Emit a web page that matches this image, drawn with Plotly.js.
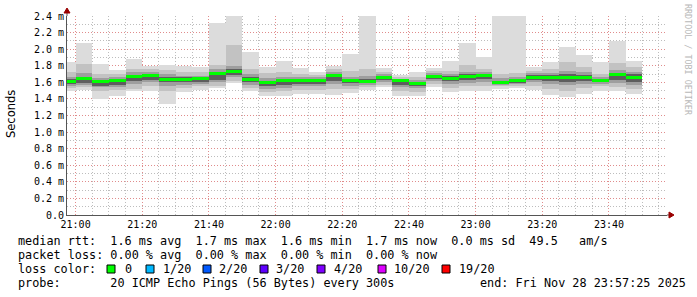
<!DOCTYPE html>
<html><head><meta charset="utf-8">
<script src="https://cdn.plot.ly/plotly-3.0.1.min.js"></script>
<style>html,body{margin:0;padding:0;background:#fff}#chart{width:697px;height:297px}</style>
</head><body><div id="chart"></div><script>
const day = '2025-11-28 ';
// 5-minute slot start times
const slotStarts = ['20:55','21:00','21:05','21:10','21:15','21:20','21:25','21:30','21:35','21:40','21:45','21:50',
  '21:55','22:00','22:05','22:10','22:15','22:20','22:25','22:30','22:35','22:40','22:45','22:50',
  '22:55','23:00','23:05','23:10','23:15','23:20','23:25','23:30','23:35','23:40','23:45'];
// median rtt (ms)
const median = [1.61,1.65,1.61,1.62,1.67,1.68,1.64,1.64,1.65,1.71,1.73,1.64,1.60,1.62,1.62,1.62,1.68,1.62,1.61,1.66,1.62,1.59,1.67,1.65,1.67,1.68,1.60,1.62,1.66,1.66,1.66,1.66,1.62,1.69,1.66];
// smoke: outer (min..max)
const smokeMax = [1.85,2.08,1.82,1.75,1.88,1.80,1.81,1.80,1.78,2.31,2.45,1.97,1.79,1.86,1.77,1.73,1.80,1.94,2.45,1.77,1.69,1.73,1.77,1.86,2.08,1.90,2.45,2.45,1.78,1.84,2.03,1.93,1.85,2.10,1.86];
const smokeMin = [1.50,1.51,1.40,1.44,1.49,1.49,1.34,1.48,1.51,1.53,1.59,1.49,1.44,1.44,1.46,1.46,1.45,1.47,1.51,1.54,1.44,1.43,1.54,1.48,1.50,1.50,1.52,1.53,1.51,1.45,1.42,1.46,1.50,1.49,1.46];
// inner smoke layers
const band2Hi = [1.72,1.82,1.70,1.70,1.76,1.76,1.75,1.73,1.72,1.81,2.05,1.76,1.71,1.73,1.70,1.69,1.76,1.74,1.76,1.73,1.66,1.66,1.74,1.74,1.81,1.76,1.70,1.71,1.74,1.76,1.84,1.78,1.70,1.83,1.79];
const band2Lo = [1.53,1.54,1.50,1.51,1.52,1.56,1.50,1.53,1.55,1.56,1.62,1.53,1.48,1.49,1.51,1.51,1.52,1.52,1.54,1.57,1.50,1.48,1.58,1.53,1.55,1.55,1.55,1.56,1.56,1.52,1.50,1.53,1.55,1.54,1.52];
const band3Hi = [1.67,1.71,1.65,1.66,1.72,1.72,1.70,1.68,1.68,1.76,1.80,1.70,1.65,1.67,1.66,1.66,1.72,1.67,1.68,1.70,1.64,1.63,1.71,1.70,1.72,1.72,1.65,1.66,1.71,1.71,1.74,1.72,1.66,1.75,1.73];
const band3Lo = [1.56,1.57,1.54,1.54,1.58,1.60,1.56,1.57,1.58,1.60,1.66,1.57,1.52,1.53,1.55,1.55,1.58,1.56,1.57,1.60,1.54,1.53,1.62,1.58,1.59,1.60,1.57,1.58,1.60,1.58,1.57,1.58,1.58,1.59,1.57];
const band4Hi = [1.64,1.67,1.62,1.63,1.69,1.70,1.66,1.66,1.66,1.72,1.76,1.66,1.61,1.63,1.64,1.64,1.70,1.64,1.64,1.68,1.63,1.61,1.69,1.68,1.70,1.70,1.62,1.64,1.69,1.69,1.70,1.69,1.64,1.71,1.70];
const band4Lo = [1.58,1.59,1.55,1.57,1.62,1.63,1.60,1.60,1.61,1.63,1.69,1.60,1.55,1.57,1.58,1.58,1.62,1.59,1.59,1.63,1.57,1.56,1.64,1.62,1.63,1.64,1.58,1.59,1.63,1.62,1.61,1.62,1.60,1.63,1.61];
// axis ticks
const yTickVals = [0,0.2,0.4,0.6,0.8,1.0,1.2,1.4,1.6,1.8,2.0,2.2,2.4];
const yTickText = ['0.0','0.2 m','0.4 m','0.6 m','0.8 m','1.0 m','1.2 m','1.4 m','1.6 m','1.8 m','2.0 m','2.2 m','2.4 m'];
// legend
const lossLabels = ['0','1/20','2/20','3/20','4/20','10/20','19/20'];
const lossColors = ['#00ff00','#00b8ff','#0059ff','#5e00ff','#7e00ff','#dd00ff','#ff0000'];
const line1 = 'median rtt:  1.6 ms avg  1.7 ms max  1.6 ms min  1.7 ms now  0.0 ms sd  49.5   am/s';
const line2 = 'packet loss: 0.00 % avg  0.00 % max  0.00 % min  0.00 % now';
const probeText = 'probe:       20 ICMP Echo Pings (56 Bytes) every 300s';
const endText = 'end: Fri Nov 28 23:57:25 2025';

const W=697,H=297,L=67,R=30,T=16,B=82;
const pw=W-L-R, ph=H-T-B;
const px = x => (x-L)/pw;
const py = y => (H-B-y)/ph;
const nb = s => s.replace(/ /g,'\u00a0');
const xs = slotStarts.map(t => day+t);

function band(lo, hi, color){
  return {type:'bar', x:xs, base:lo, y:hi.map((h,i)=>h-lo[i]), width:300000, offset:0,
    marker:{color:color, line:{width:0}}, hoverinfo:'skip', showlegend:false};
}
const traces = [
  band(smokeMin, smokeMax, '#dcdcdc'),
  band(band2Lo, band2Hi, '#c2c2c2'),
  band(band3Lo, band3Hi, '#9e9e9e'),
  band(band4Lo, band4Hi, '#5e5e5e'),
  {type:'bar', x:xs, base:median.map(m=>m-0.018), y:median.map(()=>0.036), width:300000, offset:0,
    marker:{color:'#00ff00', line:{width:0}}, hoverinfo:'skip', showlegend:false}
];

const mono = 'DejaVu Sans Mono';
const ann = [];
const shapes = [];
function txt(x,y,s,size,extra){ ann.push(Object.assign({xref:'paper',yref:'paper',x:px(x),y:py(y),text:nb(s),showarrow:false,
  xanchor:'left',yanchor:'middle',font:{family:mono,size:size,color:'#000'}},extra||{})); }
txt(16,241,line1,11.8);
txt(16,255,line2,11.8);
txt(16,269,'loss color:',11.8);
const sqX=[107,146,203,260,317,378,442];
const lbX=[122.7,160.7,217.3,274.3,331.7,391.7,456.7];
lossLabels.forEach((lab,i)=>{
  shapes.push({type:'rect',xref:'paper',yref:'paper',x0:px(sqX[i]),x1:px(sqX[i]+8),y0:py(273),y1:py(265),
    fillcolor:lossColors[i],line:{color:'#000',width:1}});
  txt(lbX[i],269,lab,11.8);
});
txt(16,283,probeText,11.8);
txt(478,283,endText,11.8);
// side texts
ann.push({xref:'paper',yref:'paper',x:px(11),y:py(114),text:'Seconds',showarrow:false,textangle:-90,
  xanchor:'center',yanchor:'middle',font:{family:'DejaVu Sans',size:11.5,color:'#000'}});
ann.push({xref:'paper',yref:'paper',x:px(688),y:py(60),text:nb('RRDTOOL / TOBI OETIKER'),showarrow:false,textangle:90,
  xanchor:'center',yanchor:'middle',font:{family:mono,size:8.4,color:'#b8b8b8'}});
// axis arrows
shapes.push({type:'path',xref:'paper',yref:'paper',xsizemode:'pixel',ysizemode:'pixel',xanchor:0,yanchor:1,
  path:'M0,0 L0,3', line:{color:'#555',width:1}});
shapes.push({type:'path',xref:'paper',yref:'paper',xsizemode:'pixel',ysizemode:'pixel',xanchor:0,yanchor:1,
  path:'M-3,3 L3,3 L0,8 Z', fillcolor:'#990000', line:{color:'#990000',width:1}});
shapes.push({type:'path',xref:'paper',yref:'paper',xsizemode:'pixel',ysizemode:'pixel',xanchor:1,yanchor:0,
  path:'M0,0 L2,0', line:{color:'#555',width:1}});
shapes.push({type:'path',xref:'paper',yref:'paper',xsizemode:'pixel',ysizemode:'pixel',xanchor:1,yanchor:0,
  path:'M2,-3 L2,3 L7,0 Z', fillcolor:'#990000', line:{color:'#990000',width:1}});

const dotDash = '1px,2px';
const layout = {
  width:W, height:H, margin:{l:L,r:R,t:T,b:B}, paper_bgcolor:'#fff', plot_bgcolor:'#fff',
  barmode:'overlay', bargap:0, showlegend:false,
  xaxis:{type:'date', range:[day+'20:57:25', day+'23:57:25'], tickformat:'%H:%M', dtick:1200000, tick0:day+'21:00',
    showgrid:true, gridcolor:'#e08c8c', griddash:dotDash, gridwidth:1,
    minor:{dtick:300000, tick0:day+'21:00', showgrid:true, gridcolor:'#bdbdbd', griddash:dotDash, gridwidth:1},
    showline:true, linecolor:'#555', linewidth:1, ticks:'', zeroline:false, fixedrange:true,
    tickfont:{family:mono,size:10,color:'#000'}},
  yaxis:{range:[0,2.4], tickmode:'array', tickvals:yTickVals, ticktext:yTickText,
    showgrid:true, gridcolor:'#e08c8c', griddash:dotDash, gridwidth:1,
    minor:{dtick:0.1, tick0:0, showgrid:true, gridcolor:'#bdbdbd', griddash:dotDash, gridwidth:1},
    showline:true, linecolor:'#555', linewidth:1, ticks:'', zeroline:false, fixedrange:true,
    tickfont:{family:mono,size:10,color:'#000'}},
  annotations:ann, shapes:shapes
};
Plotly.newPlot('chart', traces, layout, {staticPlot:true, displayModeBar:false});
</script></body></html>
